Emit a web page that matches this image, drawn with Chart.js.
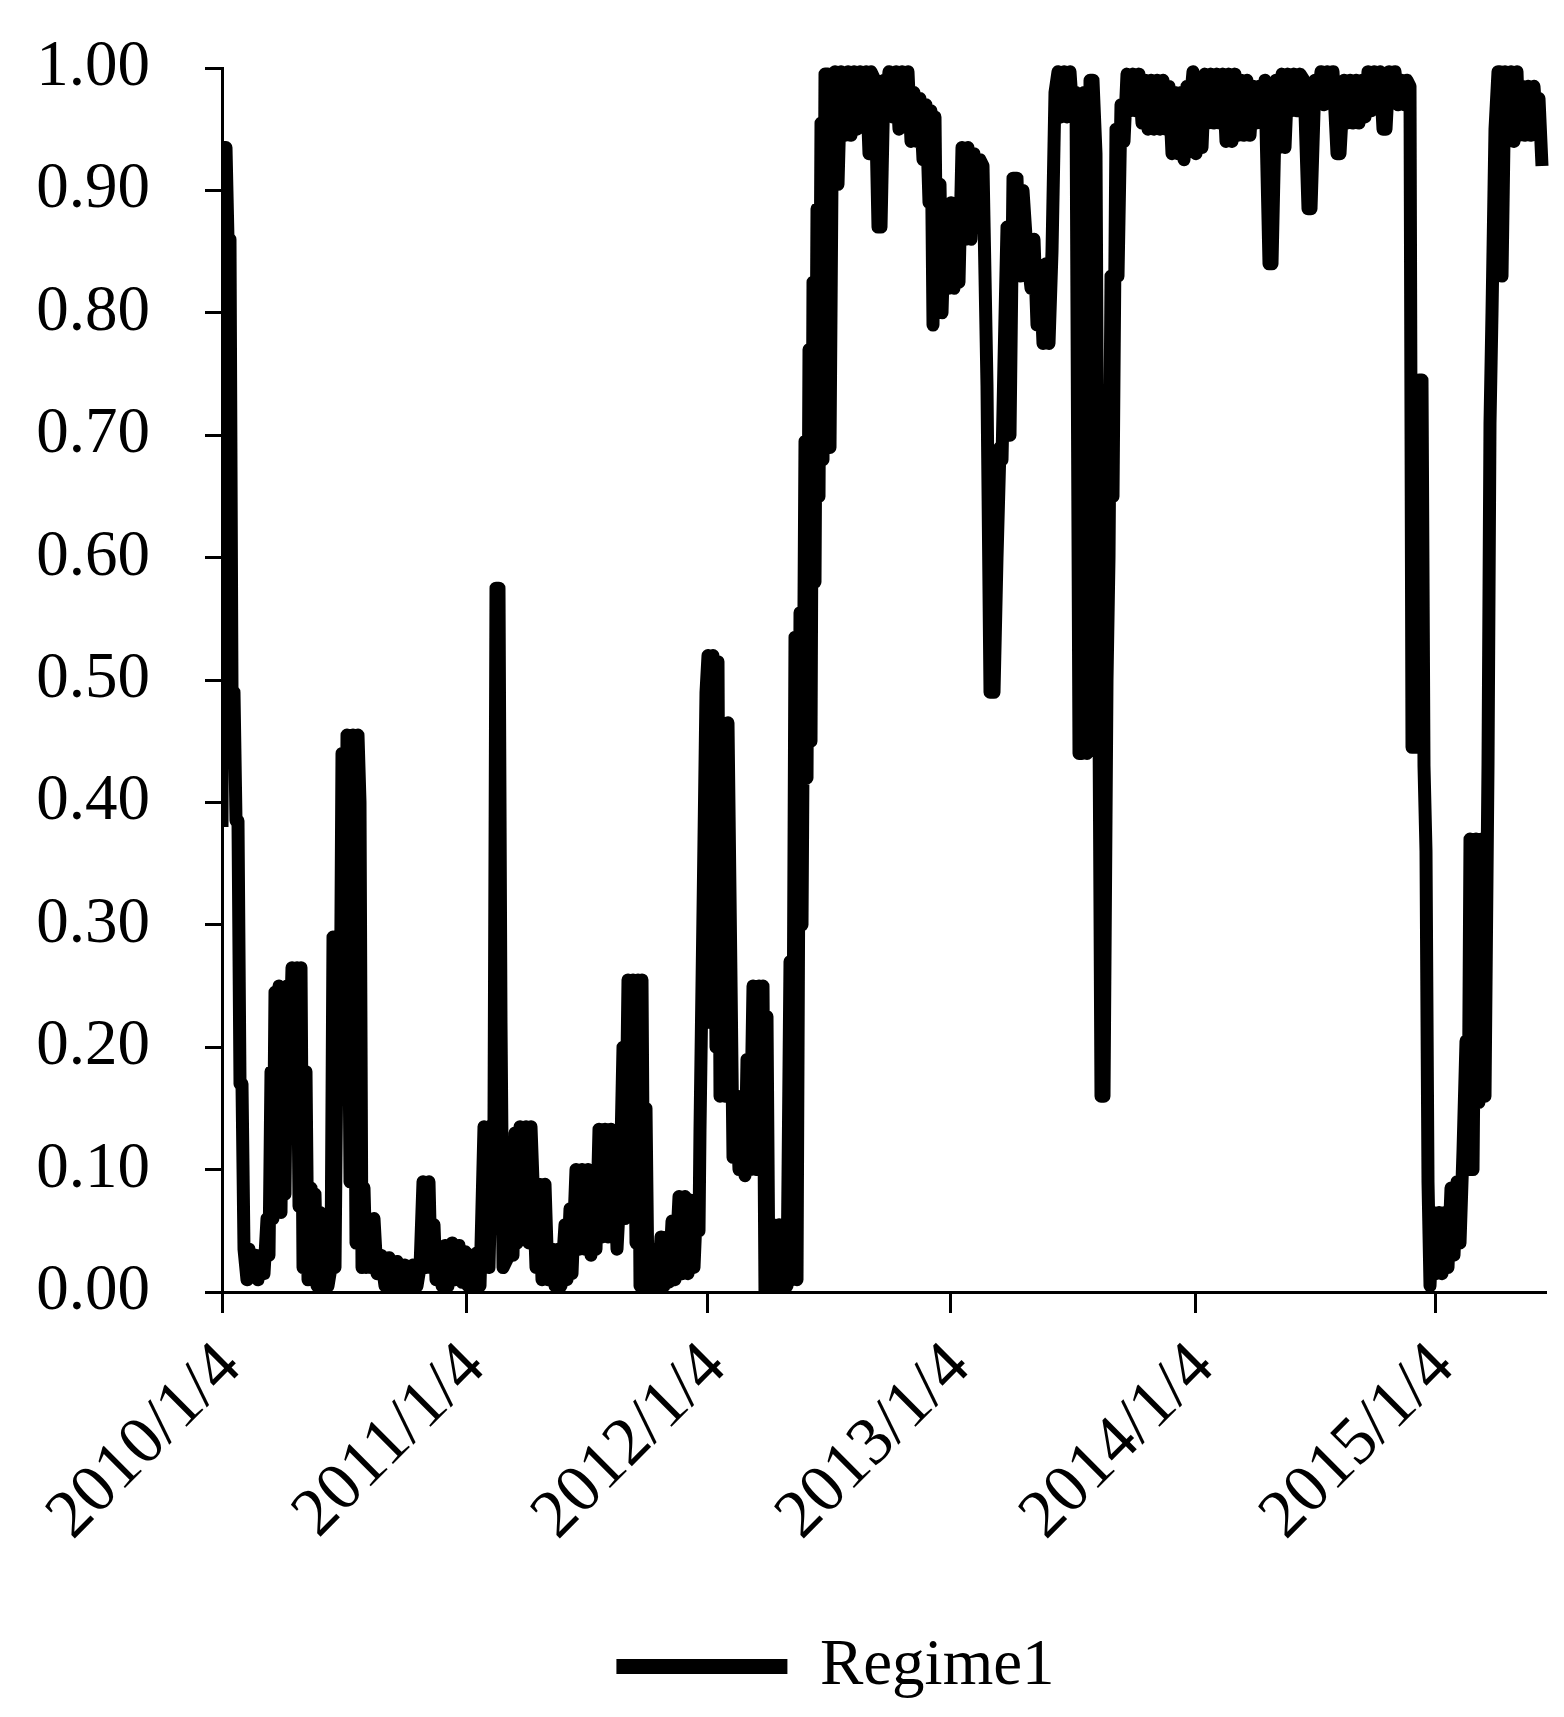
<!DOCTYPE html>
<html>
<head>
<meta charset="utf-8">
<title>Regime1</title>
<script src="https://cdn.jsdelivr.net/npm/chart.js@4/dist/chart.umd.min.js"></script>
<style>
  html, body { margin: 0; padding: 0; background: #fff; }
  canvas { display: block; }
</style>
</head>
<body>
<canvas id="chart" width="1564" height="1717"></canvas>
<script>
// trading-day index (0 = 2010/1/4) and smoothed probability of regime 1
const days = [
  0, 2, 4, 6, 8, 10, 12, 14, 16, 18, 20, 22, 25, 27, 30, 33, 36, 39, 42,
  45, 47, 49, 51, 53, 55, 57, 59, 61, 63, 65, 67, 70, 72, 75, 77, 79, 81,
  84, 86, 89, 91, 93, 95, 98, 101, 103, 106, 109, 111, 113, 116,
  118, 120, 123, 125, 128, 131, 134, 136, 138, 140, 142, 144, 146, 149, 152, 155,
  159, 163, 167, 171, 175, 179, 183, 187, 191, 195, 198, 201, 204, 207, 209,
  212, 214, 217, 220, 223, 226, 230, 233, 237, 240,
  243, 246, 249, 252, 255, 258, 262, 264, 267, 270, 272, 274, 277, 279, 281, 284,
  287, 289, 291, 293, 295, 298, 301, 304, 307, 309, 311, 314, 317, 320, 323, 326,
  330, 333, 336, 339, 343, 345, 348, 350, 354, 357, 360, 363, 366, 369, 372, 374,
  377, 380, 383, 386, 389, 391, 393, 395, 398, 401, 403, 406,
  409, 411, 414, 416, 418, 420, 422, 424, 426, 429, 431, 434, 436,
  439, 442, 445, 447, 450, 453, 457, 460, 463, 466, 469, 472, 474, 477, 478, 481, 484,
  486, 489, 491, 494, 496, 498, 500, 503, 506, 509, 511, 514, 517, 520, 523, 525,
  528, 531, 534, 537, 539, 541, 543, 545, 547, 551, 554, 557, 560, 563, 565,
  568, 570, 573, 575, 578, 580, 583, 585, 587, 589, 591, 593, 595, 597, 599, 601,
  603, 606, 608, 610, 613, 616, 619, 623, 626, 629, 632, 635, 638, 641, 644,
  647, 649, 653, 656, 659, 662, 665, 667, 671, 674, 677, 680, 683, 686,
  689, 692, 695, 698, 701, 704, 707, 709, 711, 713, 715, 718, 720, 723, 726, 729, 732,
  735, 737, 740, 743, 746, 749, 752, 755, 758, 761, 765, 768, 772, 775, 778, 780,
  782, 785, 788, 791, 795, 798, 801, 805, 809, 812, 815, 818, 821, 824, 827, 830, 833,
  836, 839, 842, 845, 848, 851, 854, 857, 860, 862, 865, 868, 871, 874, 879, 882,
  885, 887, 889, 891, 894, 896, 899, 902, 905, 908, 911, 914, 917,
  920, 923, 926, 929, 932, 935, 938, 941, 944, 947, 950, 953, 956, 959, 962, 965, 968, 971,
  974, 977, 980, 983, 986, 989, 992, 995, 998, 1001, 1004, 1007, 1010, 1013, 1016,
  1019, 1022, 1025, 1028, 1031, 1034, 1037, 1040, 1043, 1047, 1050, 1054,
  1057, 1060, 1063, 1066, 1069, 1072, 1075, 1078, 1082, 1086, 1089, 1093,
  1096, 1099, 1102, 1105, 1108, 1111, 1115, 1118, 1122, 1125, 1128,
  1131, 1134, 1137, 1140, 1143, 1146, 1149, 1152, 1155, 1158, 1161, 1164, 1167, 1170, 1173,
  1176, 1179, 1182, 1185, 1188, 1190, 1195, 1197, 1200, 1202, 1204, 1206, 1208,
  1211, 1214, 1217, 1220, 1223, 1226, 1229, 1232, 1235, 1238, 1241, 1244, 1246,
  1248, 1251, 1254, 1257, 1260, 1263, 1266, 1268, 1270, 1273, 1276, 1278, 1280, 1283,
  1286, 1289, 1292, 1295, 1297, 1300, 1303, 1306, 1309, 1312, 1315, 1317, 1320
];
const regime1 = [
  0.38, 0.935, 0.935, 0.86, 0.86, 0.49, 0.49, 0.385, 0.385, 0.17, 0.17, 0.035, 0.01, 0.035, 0.012, 0.03, 0.01, 0.03, 0.015,
  0.06, 0.03, 0.18, 0.06, 0.245, 0.07, 0.25, 0.065, 0.245, 0.08, 0.25, 0.17, 0.265, 0.17, 0.265, 0.07, 0.265, 0.02,
  0.18, 0.01, 0.085, 0.01, 0.08, 0.005, 0.065, 0.005, 0.02, 0.005, 0.02, 0.29, 0.02, 0.29,
  0.18, 0.44, 0.2, 0.455, 0.09, 0.455, 0.04, 0.455, 0.40, 0.02, 0.085, 0.02, 0.06, 0.02, 0.06, 0.015,
  0.03, 0.005, 0.028, 0.005, 0.025, 0.005, 0.022, 0.004, 0.022, 0.005, 0.02, 0.09, 0.02, 0.09, 0.02,
  0.055, 0.01, 0.028, 0.005, 0.038, 0.005, 0.04, 0.01, 0.038, 0.008,
  0.033, 0.005, 0.03, 0.005, 0.032, 0.005, 0.135, 0.03, 0.02, 0.135, 0.14, 0.575, 0.575, 0.22, 0.02, 0.025,
  0.03, 0.065, 0.03, 0.13, 0.04, 0.135, 0.05, 0.135, 0.04, 0.135, 0.09, 0.02, 0.088, 0.01, 0.088, 0.01,
  0.035, 0.005, 0.035, 0.005, 0.055, 0.01, 0.068, 0.015, 0.1, 0.035, 0.1, 0.035, 0.1, 0.03, 0.078, 0.035,
  0.133, 0.045, 0.133, 0.045, 0.133, 0.045, 0.09, 0.035, 0.082, 0.2, 0.06, 0.255,
  0.1, 0.255, 0.04, 0.255, 0.005, 0.255, 0.0, 0.15, 0.005, 0.022, 0.003, 0.035, 0.005,
  0.045, 0.005, 0.045, 0.008, 0.058, 0.01, 0.078, 0.015, 0.078, 0.015, 0.075, 0.02, 0.06, 0.05, 0.133, 0.31, 0.49,
  0.52, 0.22, 0.52, 0.2, 0.515, 0.16, 0.465, 0.16, 0.465, 0.255, 0.11, 0.16, 0.1, 0.16, 0.095, 0.19,
  0.1, 0.25, 0.1, 0.25, 0.1, 0.25, 0.0, 0.225, 0.0, 0.055, 0.005, 0.055, 0.005, 0.05, 0.005,
  0.27, 0.01, 0.535, 0.01, 0.555, 0.3, 0.695, 0.42, 0.77, 0.45, 0.825, 0.58, 0.885, 0.65, 0.955, 0.68,
  0.995, 0.995, 0.69, 0.91, 0.997, 0.905, 0.997, 0.945, 0.997, 0.945, 0.997, 0.95, 0.997, 0.965, 0.997,
  0.93, 0.997, 0.99, 0.87, 0.87, 0.99, 0.98, 0.997, 0.96, 0.997, 0.95, 0.997, 0.955, 0.997,
  0.94, 0.98, 0.94, 0.975, 0.925, 0.97, 0.89, 0.965, 0.79, 0.96, 0.8, 0.905, 0.8, 0.885, 0.82, 0.89, 0.82,
  0.89, 0.825, 0.935, 0.86, 0.935, 0.86, 0.93, 0.875, 0.925, 0.92, 0.74, 0.49, 0.49, 0.6, 0.69, 0.68,
  0.76, 0.87, 0.7, 0.91, 0.91, 0.83, 0.9, 0.85, 0.82, 0.86, 0.79, 0.835, 0.775, 0.84, 0.775, 0.85, 0.98,
  0.997, 0.96, 0.997, 0.96, 0.997, 0.96, 0.98, 0.44, 0.44, 0.98, 0.44, 0.99, 0.99, 0.93, 0.16, 0.16,
  0.5, 0.6, 0.83, 0.65, 0.95, 0.83, 0.97, 0.94, 0.995, 0.965, 0.995, 0.965, 0.995,
  0.955, 0.99, 0.95, 0.99, 0.95, 0.99, 0.95, 0.99, 0.95, 0.985, 0.93, 0.98, 0.93, 0.98, 0.925, 0.985, 0.97, 0.997,
  0.93, 0.99, 0.935, 0.995, 0.955, 0.995, 0.955, 0.995, 0.955, 0.995, 0.94, 0.995, 0.94, 0.995, 0.945,
  0.99, 0.945, 0.99, 0.945, 0.985, 0.955, 0.985, 0.955, 0.99, 0.84, 0.84, 0.99,
  0.935, 0.995, 0.935, 0.995, 0.965, 0.995, 0.965, 0.995, 0.99, 0.885, 0.885, 0.99,
  0.975, 0.997, 0.97, 0.997, 0.975, 0.997, 0.93, 0.93, 0.99, 0.955, 0.99,
  0.955, 0.99, 0.955, 0.99, 0.96, 0.997, 0.965, 0.997, 0.97, 0.997, 0.95, 0.95, 0.997, 0.975, 0.997,
  0.97, 0.99, 0.97, 0.99, 0.985, 0.445, 0.445, 0.745, 0.745, 0.43, 0.36, 0.09, 0.005,
  0.065, 0.015, 0.065, 0.015, 0.065, 0.02, 0.085, 0.03, 0.09, 0.04, 0.115, 0.205, 0.1,
  0.37, 0.1, 0.37, 0.155, 0.37, 0.16, 0.43, 0.71, 0.8, 0.95, 0.997, 0.997, 0.83, 0.997,
  0.94, 0.997, 0.94, 0.997, 0.945, 0.985, 0.945, 0.985, 0.945, 0.985, 0.95, 0.975, 0.92
];

const yearTickDays = [0, 244, 485, 729, 973, 1213];
const tickLabels = ['2010/1/4', '2011/1/4', '2012/1/4', '2013/1/4', '2014/1/4', '2015/1/4'];
const lastDay = 1323;

const serif = "'Liberation Serif', 'Times New Roman', serif";

// push the legend to the right, it is not centred on the canvas in the original
const legendShift = {
  id: 'legendShift',
  afterLayout(chart) {
    chart.legend.left += 63;
    chart.legend.right += 63;
  }
};

const ctx = document.getElementById('chart').getContext('2d');
new Chart(ctx, {
  type: 'line',
  data: {
    datasets: [{
      label: 'Regime1',
      data: days.map((d, i) => ({ x: d, y: regime1[i] })),
      borderColor: '#000',
      backgroundColor: '#000',
      borderWidth: 13,
      borderJoinStyle: 'round',
      pointRadius: 0,
      tension: 0,
      clip: { left: 0, top: 8, right: 8, bottom: 0 }
    }]
  },
  plugins: [legendShift],
  options: {
    responsive: false,
    animation: false,
    devicePixelRatio: 1,
    layout: {
      padding: { left: 0, right: 19, top: 68, bottom: 8 }
    },
    plugins: {
      tooltip: { enabled: false },
      legend: {
        position: 'bottom',
        labels: {
          boxWidth: 171,
          boxHeight: 15,
          color: '#000',
          font: { family: serif, size: 65 },
          generateLabels: chart => Chart.defaults.plugins.legend.labels.generateLabels(chart)
            .map(item => ({ ...item, lineWidth: 0, fillStyle: '#000' }))
        }
      }
    },
    scales: {
      x: {
        type: 'linear',
        min: 0,
        max: lastDay,
        afterBuildTicks: axis => {
          axis.ticks = yearTickDays.map(v => ({ value: v }));
        },
        afterFit: axis => { axis.height = 332; },
        border: { display: true, color: '#000', width: 3 },
        grid: {
          drawOnChartArea: false,
          drawTicks: true,
          tickLength: 21,
          color: '#000',
          lineWidth: 3
        },
        ticks: {
          autoSkip: false,
          maxRotation: 45,
          minRotation: 45,
          padding: 15,
          labelOffset: 9,
          color: '#000',
          font: { family: serif, size: 68 },
          callback: value => tickLabels[yearTickDays.indexOf(value)]
        }
      },
      y: {
        min: 0,
        max: 1,
        afterFit: axis => {
          axis.width = 222;
          // the label gap should not push the plot down from the top
          axis.paddingTop = 0;
          axis.paddingBottom = 0;
        },
        border: { display: true, color: '#000', width: 3 },
        grid: {
          drawOnChartArea: false,
          drawTicks: true,
          tickLength: 17,
          color: '#000',
          lineWidth: 3
        },
        ticks: {
          stepSize: 0.1,
          padding: 55,
          color: '#000',
          font: { family: serif, size: 65 },
          callback: value => value.toFixed(2)
        }
      }
    }
  }
});
</script>
</body>
</html>
